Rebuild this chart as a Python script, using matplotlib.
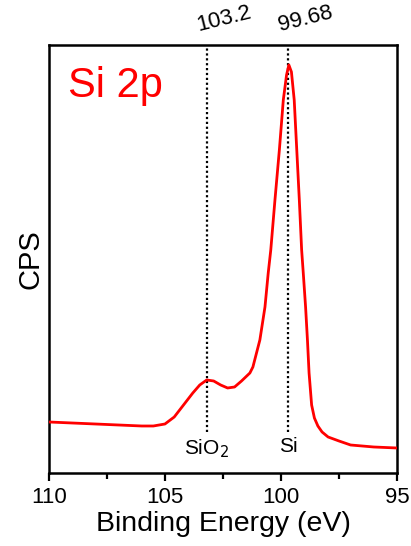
import numpy as np
import matplotlib.pyplot as plt

plt.rcParams['font.family'] = ['Liberation Sans', 'DejaVu Sans']

# binding energy (eV) and counts (arbitrary units)
energy = np.array([110, 109, 108, 107, 106, 105.5, 105, 104.6, 104.2, 103.8, 103.5,
                   103.2, 102.9, 102.6, 102.3, 102.0, 101.7, 101.34, 101.21, 100.91,
                   100.69, 100.55, 100.44, 100.26, 100.07, 99.90, 99.76, 99.66, 99.55,
                   99.43, 99.32, 99.21, 99.11, 99.04, 98.94, 98.86, 98.79, 98.68,
                   98.56, 98.41, 98.23, 97.97, 97.5, 97.0, 96.5, 96.0, 95.5, 95.0])
cps = np.array([51, 50, 49, 48, 47, 47, 49, 56, 68, 80, 88,
                93, 92, 88, 85, 86, 92, 100, 106, 133,
                166, 200, 223, 273, 323, 373, 398, 408, 401,
                373, 323, 273, 223, 200, 166, 133, 100, 68,
                55, 47, 41, 36, 32, 28, 27, 26, 25.5, 25])

peaks = [103.2, 99.68]
peak_labels = ['103.2', '99.68']
species = ['SiO$_2$', 'Si']

fig = plt.figure(figsize=(4.11, 5.46), dpi=100)
ax = fig.add_axes([0.119, 0.1337, 0.847, 0.784])

ax.plot(energy, cps, color='red', lw=2, zorder=3)

for p, lab, sp in zip(peaks, peak_labels, species):
    ax.plot([p, p], [41, 428], ls=(0, (1, 1.2)), color='black', lw=1.6, zorder=2)
    ax.text(p + 0.3, 428 + 9, lab, rotation=14, ha='left', va='bottom',
            fontsize=16, rotation_mode='anchor', clip_on=False)
    ax.text(p, 36, sp, ha='center', va='top', fontsize=15)

ax.text(0.055, 0.905, 'Si 2p', color='red', fontsize=30, transform=ax.transAxes,
        ha='left', va='center')

ax.set_xlim(110, 95)
ax.set_ylim(0, 428)
ax.set_xticks([110, 105, 100, 95])
ax.set_xticks([107.5, 102.5, 97.5], minor=True)
ax.set_yticks([])
ax.tick_params(axis='x', which='major', length=6, width=1.6, labelsize=16,
               direction='out', pad=4)
ax.tick_params(axis='x', which='minor', length=4, width=1.6, direction='out')
for s in ax.spines.values():
    s.set_linewidth(1.8)

ax.set_xlabel('Binding Energy (eV)', fontsize=20.5, labelpad=2)
ax.set_ylabel('CPS', fontsize=21, labelpad=3)

fig.savefig('out.png', dpi=100)
